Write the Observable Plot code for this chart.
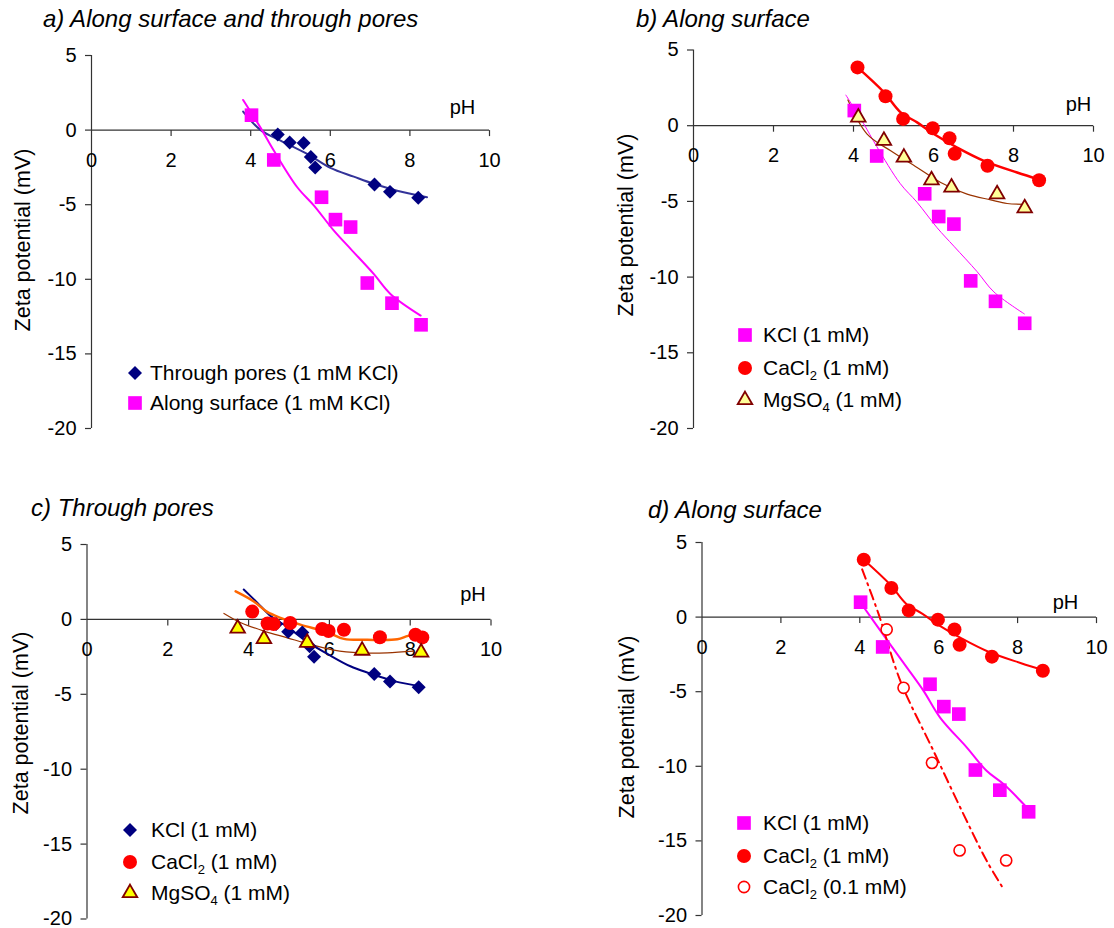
<!DOCTYPE html>
<html>
<head>
<meta charset="utf-8">
<script src="https://cdn.jsdelivr.net/npm/d3@7"></script>
<script src="https://cdn.jsdelivr.net/npm/@observablehq/plot@0.6"></script>
<style>
  body { margin: 0; background: #fff; font-family: "Liberation Sans", Arial, Helvetica, sans-serif; }
  #root { position: relative; width: 1114px; height: 928px; overflow: hidden; background: #fff; }
  #root svg.plot { position: absolute; overflow: visible; }
  .title { position: absolute; font-style: italic; font-size: 24px; line-height: 1; white-space: nowrap; color: #000; }
  .ylab { position: absolute; font-size: 21.5px; line-height: 1; white-space: nowrap; color: #000;
          transform: translate(-50%, -50%) rotate(-90deg); }
  .lg-text { position: absolute; font-size: 21px; line-height: 24px; white-space: nowrap; color: #000; }
  .lg-text sub { font-size: 13px; vertical-align: -5px; line-height: 0; }
  .lg-mark { position: absolute; overflow: visible; }
</style>
</head>
<body>
<div id="root"></div>
<script>
// ---------- texts & ticks ----------
const xTicks = [0, 2, 4, 6, 8, 10];
const yTicks = [-20, -15, -10, -5, 0, 5];
const xLabel = "pH";
const yLabel = "Zeta potential (mV)";
const titles = ["a) Along surface and through pores", "b) Along surface", "c) Through pores", "d) Along surface"];

// ---------- measured data ----------
// KCl 1 mM, through pores (diamonds) — panels a, c
const poresKclPH   = [4.68, 4.98, 5.33, 5.51, 5.62, 7.11, 7.50, 8.21];
const poresKclZeta = [-0.30, -0.83, -0.87, -1.80, -2.50, -3.65, -4.14, -4.53];
// KCl 1 mM, along surface (squares) — panels a, b, d
const surfKclPH   = [4.02, 4.58, 5.78, 6.13, 6.51, 6.93, 7.55, 8.28];
const surfKclZeta = [1.0, -2.0, -4.5, -6.0, -6.5, -10.25, -11.6, -13.05];
// CaCl2 1 mM, along surface — panels b, d
const surfCaPH   = [4.10, 4.80, 5.24, 5.98, 6.40, 6.53, 7.35, 8.64];
const surfCaZeta = [3.85, 1.95, 0.45, -0.17, -0.83, -1.85, -2.65, -3.60];
// MgSO4 1 mM, along surface — panel b
const surfMgPH   = [4.12, 4.76, 5.26, 5.95, 6.45, 7.59, 8.28];
const surfMgZeta = [0.55, -0.99, -2.10, -3.60, -4.08, -4.52, -5.45];
// CaCl2 1 mM, through pores — panel c
const poresCaPH   = [4.09, 4.47, 4.62, 5.03, 5.82, 5.98, 6.36, 7.25, 8.13, 8.30];
const poresCaZeta = [0.52, -0.27, -0.31, -0.24, -0.64, -0.77, -0.69, -1.19, -1.02, -1.20];
// MgSO4 1 mM, through pores — panel c
const poresMgPH   = [3.73, 4.38, 5.45, 6.81, 8.27];
const poresMgZeta = [-0.60, -1.30, -1.55, -2.08, -2.20];
// CaCl2 0.1 mM, along surface — panel d
const surfCaLowPH   = [4.68, 5.11, 5.83, 6.53, 7.71];
const surfCaLowZeta = [-0.83, -4.74, -9.77, -15.64, -16.31];

// ---------- fitted curves ----------
const fitPoresKclA_PH   = [3.81, 4.25, 4.75, 5.42, 6.00, 6.59, 7.09, 7.68, 8.43];
const fitPoresKclA_Zeta = [1.24, 0.00, -0.70, -1.60, -2.53, -3.12, -3.60, -4.06, -4.50];
const fitSurfKclAB_PH   = [3.81, 4.25, 4.58, 5.17, 5.59, 6.09, 6.51, 7.09, 7.51, 8.27];
const fitSurfKclAB_Zeta = [2.02, 0.15, -1.37, -3.83, -5.06, -6.74, -7.96, -9.64, -10.98, -12.43];
const fitSurfCa_PH   = [4.10, 4.76, 5.18, 5.59, 6.01, 6.59, 7.26, 8.09, 8.64];
const fitSurfCa_Zeta = [3.85, 2.21, 0.88, 0.22, -0.55, -1.44, -2.32, -3.09, -3.55];
const fitSurfMg_PH   = [3.86, 4.34, 4.93, 5.59, 6.18, 6.84, 7.43, 7.84, 8.26];
const fitSurfMg_Zeta = [1.70, -0.55, -1.66, -2.76, -3.75, -4.52, -4.90, -5.14, -5.19];
const fitPoresKclC_PH   = [3.88, 4.22, 4.55, 4.96, 5.45, 5.95, 6.52, 7.00, 7.60, 8.32];
const fitPoresKclC_Zeta = [2.00, 1.10, 0.22, -0.50, -1.50, -2.30, -3.13, -3.60, -4.12, -4.50];
const fitPoresCa_PH   = [3.68, 4.13, 4.46, 4.79, 5.28, 5.95, 6.36, 6.94, 7.68, 7.95, 8.30];
const fitPoresCa_Zeta = [1.87, 1.20, 0.50, 0.10, -0.35, -0.85, -1.30, -1.36, -1.33, -1.10, -0.93];
const fitPoresMg_PH   = [3.39, 3.81, 4.38, 4.96, 5.53, 6.11, 6.77, 7.43, 8.09];
const fitPoresMg_Zeta = [0.40, -0.22, -0.78, -1.23, -1.67, -2.05, -2.23, -2.23, -2.12];
const fitSurfKclD_PH   = [4.02, 4.71, 5.20, 5.62, 6.04, 6.72, 7.22, 7.65, 8.24];
const fitSurfKclD_Zeta = [0.96, -1.61, -3.40, -4.96, -6.75, -8.76, -10.32, -11.21, -12.78];
const fitSurfCaLow_PH   = [4.06, 4.48, 5.03, 5.87, 6.63, 7.22, 7.65];
const fitSurfCaLow_Zeta = [3.20, 0.18, -4.29, -8.98, -13.22, -16.35, -18.25];

// ---------- styles ----------
const FONT = '"Liberation Sans", Arial, Helvetica, sans-serif';
const AXIS = "#333333";
const NAVY = "#000080", NAVYLINE = "#333399", PINK = "#FF00FF", RED = "#FF0000",
      BROWN = "#993300", ORANGE = "#FF6600", DARKRED = "#800000";
const sym = {
  diamond: {symbol: "diamond2", r: 6.3, fill: NAVY, stroke: "none", sw: 0},
  square: {symbol: "square", r: 7.7, fill: PINK, stroke: "none", sw: 0},
  circle: {symbol: "circle", r: 7, fill: RED, stroke: "none", sw: 0},
  triPale: {symbol: "triangle", r: 5.4, fill: "#FFFF99", stroke: DARKRED, sw: 1.8},
  triYellow: {symbol: "triangle", r: 5.4, fill: "#FFFF00", stroke: DARKRED, sw: 1.8},
  open: {symbol: "circle", r: 5.6, fill: "#ffffff", stroke: RED, sw: 1.6}
};

const pts = (xs, ys) => xs.map((x, i) => ({x, y: ys[i]}));
const dots = (xs, ys, s) => Plot.dot(pts(xs, ys), {x: "x", y: "y", symbol: s.symbol, r: s.r, fill: s.fill,
  stroke: s.stroke, strokeWidth: s.sw});
const curve = (xs, ys, color, w, extra = {}) => Plot.line(pts(xs, ys), {x: "x", y: "y", stroke: color,
  strokeWidth: w, curve: "catmull-rom", ...extra});

const tickDown = {draw(ctx) { ctx.moveTo(0, 0); ctx.lineTo(0, 6); }};

function axes(L) {
  const xMin = xTicks[0], xMax = xTicks[xTicks.length - 1];
  const yMin = yTicks[0], yMax = yTicks[yTicks.length - 1];
  return [
    Plot.ruleY([0], {x1: xMin, x2: xMax, stroke: AXIS, strokeWidth: 1.2}),
    Plot.ruleX([0], {y1: yMin, y2: yMax, stroke: AXIS, strokeWidth: 1.2}),
    Plot.dot(xTicks.slice(1), {x: d => d, y: () => 0, symbol: tickDown, r: 3, stroke: AXIS, fill: "none", strokeWidth: 1.2}),
    Plot.text(xTicks, {x: d => d, y: () => 0, dy: 30, text: d => String(d), fontSize: 20, fill: "#000"}),
    Plot.axisY({ticks: yTicks, tickSize: 6, tickPadding: 9, tickFormat: d => String(d), fontSize: 20,
      label: null, stroke: AXIS, strokeWidth: 1.2}),
    Plot.text([xLabel], {x: () => xMax, y: () => 0, dx: L.phDx, dy: L.phDy, text: d => d, fontSize: 20, fill: "#000"})
  ];
}

const root = document.getElementById("root");

function panel(L, marks) {
  const svg = Plot.plot({
    width: L.width, height: L.height,
    marginLeft: L.mL, marginRight: L.mR, marginTop: L.mT, marginBottom: L.mB,
    x: {domain: [xTicks[0], xTicks[xTicks.length - 1]], axis: null},
    y: {domain: [yTicks[0], yTicks[yTicks.length - 1]], axis: null},
    style: {fontFamily: FONT, fontSize: "20px", background: "transparent", color: "#000", overflow: "visible"},
    marks: [...axes(L), ...marks]
  });
  svg.setAttribute("class", "plot");
  svg.style.left = L.left + "px";
  svg.style.top = L.top + "px";
  root.appendChild(svg);
  // rotated y-axis title, centred at (ylX, ylY) on the page
  const yl = document.createElement("div");
  yl.className = "ylab";
  yl.textContent = yLabel;
  yl.style.left = L.ylX + "px"; yl.style.top = L.ylY + "px";
  root.appendChild(yl);
}

function title(text, x, y) {
  const d = document.createElement("div");
  d.className = "title";
  d.textContent = text;
  d.style.left = x + "px"; d.style.top = y + "px";
  root.appendChild(d);
}

const d3sym = {circle: d3.symbolCircle, square: d3.symbolSquare, diamond2: d3.symbolDiamond2, triangle: d3.symbolTriangle};
function legend(items, mx, tx, rows) {
  items.forEach((it, i) => {
    const y = rows[i];
    const s = it.s;
    const ns = "http://www.w3.org/2000/svg";
    const m = document.createElementNS(ns, "svg");
    m.setAttribute("class", "lg-mark");
    m.setAttribute("width", 20); m.setAttribute("height", 20);
    m.style.left = (mx - 10) + "px"; m.style.top = (y - 10) + "px";
    const p = document.createElementNS(ns, "path");
    p.setAttribute("d", d3.symbol(d3sym[s.symbol], Math.PI * s.r * s.r)());
    p.setAttribute("transform", "translate(10,10)");
    p.setAttribute("fill", s.fill);
    p.setAttribute("stroke", s.stroke);
    p.setAttribute("stroke-width", s.sw);
    m.appendChild(p);
    root.appendChild(m);
    const t = document.createElement("div");
    t.className = "lg-text";
    t.innerHTML = it.label;
    t.style.left = tx + "px"; t.style.top = (y - 12) + "px";
    root.appendChild(t);
  });
}

// ---------- layout ----------
const LA = {left: 0, top: 40, width: 557, height: 410, mL: 91, mR: 68, mT: 15, mB: 22, ylX: 24, ylY: 240, phDx: -27, phDy: -23};
const LB = {left: 557, top: 40, width: 557, height: 410, mL: 136, mR: 21, mT: 9.5, mB: 22, ylX: 627, ylY: 225, phDx: -15, phDy: -21};
const LC = {left: 0, top: 530, width: 557, height: 398, mL: 86.5, mR: 66.5, mT: 14, mB: 9.5, ylX: 22, ylY: 723, phDx: -18, phDy: -25};
const LD = {left: 557, top: 530, width: 557, height: 398, mL: 144.5, mR: 18, mT: 12, mB: 13, ylX: 628, ylY: 727, phDx: -31, phDy: -15};

// a)
panel(LA, [
  curve(fitPoresKclA_PH, fitPoresKclA_Zeta, NAVYLINE, 2),
  curve(fitSurfKclAB_PH, fitSurfKclAB_Zeta, PINK, 2),
  dots(poresKclPH, poresKclZeta, sym.diamond),
  dots(surfKclPH, surfKclZeta, sym.square)
]);
// b)
panel(LB, [
  curve(fitSurfKclAB_PH, fitSurfKclAB_Zeta, PINK, 1),
  curve(fitSurfMg_PH, fitSurfMg_Zeta, BROWN, 1.2),
  curve(fitSurfCa_PH, fitSurfCa_Zeta, RED, 2.5),
  dots(surfKclPH, surfKclZeta, sym.square),
  dots(surfCaPH, surfCaZeta, sym.circle),
  dots(surfMgPH, surfMgZeta, sym.triPale)
]);
// c)
panel(LC, [
  curve(fitPoresMg_PH, fitPoresMg_Zeta, BROWN, 1.2),
  curve(fitPoresKclC_PH, fitPoresKclC_Zeta, NAVY, 2),
  curve(fitPoresCa_PH, fitPoresCa_Zeta, ORANGE, 2.5),
  dots(poresKclPH, poresKclZeta, sym.diamond),
  dots(poresCaPH, poresCaZeta, sym.circle),
  dots(poresMgPH, poresMgZeta, sym.triYellow)
]);
// d)
panel(LD, [
  curve(fitSurfKclD_PH, fitSurfKclD_Zeta, PINK, 2),
  curve(fitSurfCa_PH, fitSurfCa_Zeta, RED, 2),
  curve(fitSurfCaLow_PH, fitSurfCaLow_Zeta, RED, 2, {strokeDasharray: "10,5,2,5"}),
  dots(surfKclPH, surfKclZeta, sym.square),
  dots(surfCaPH, surfCaZeta, sym.circle),
  dots(surfCaLowPH, surfCaLowZeta, sym.open)
]);

title(titles[0], 43, 6.5);
title(titles[1], 636, 6.5);
title(titles[2], 31, 496);
title(titles[3], 648, 498);

legend([
  {s: sym.diamond, label: "Through pores (1 mM KCl)"},
  {s: sym.square, label: "Along surface (1 mM KCl)"}
], 135, 150, [373, 403]);
legend([
  {s: sym.square, label: "KCl (1 mM)"},
  {s: sym.circle, label: "CaCl<sub>2</sub> (1 mM)"},
  {s: sym.triPale, label: "MgSO<sub>4</sub> (1 mM)"}
], 745, 763, [335, 368, 400]);
legend([
  {s: sym.diamond, label: "KCl (1 mM)"},
  {s: sym.circle, label: "CaCl<sub>2</sub> (1 mM)"},
  {s: sym.triYellow, label: "MgSO<sub>4</sub> (1 mM)"}
], 130, 151, [830, 862, 893]);
legend([
  {s: sym.square, label: "KCl (1 mM)"},
  {s: sym.circle, label: "CaCl<sub>2</sub> (1 mM)"},
  {s: sym.open, label: "CaCl<sub>2</sub> (0.1 mM)"}
], 744, 763, [823, 856, 887]);
</script>
</body>
</html>
